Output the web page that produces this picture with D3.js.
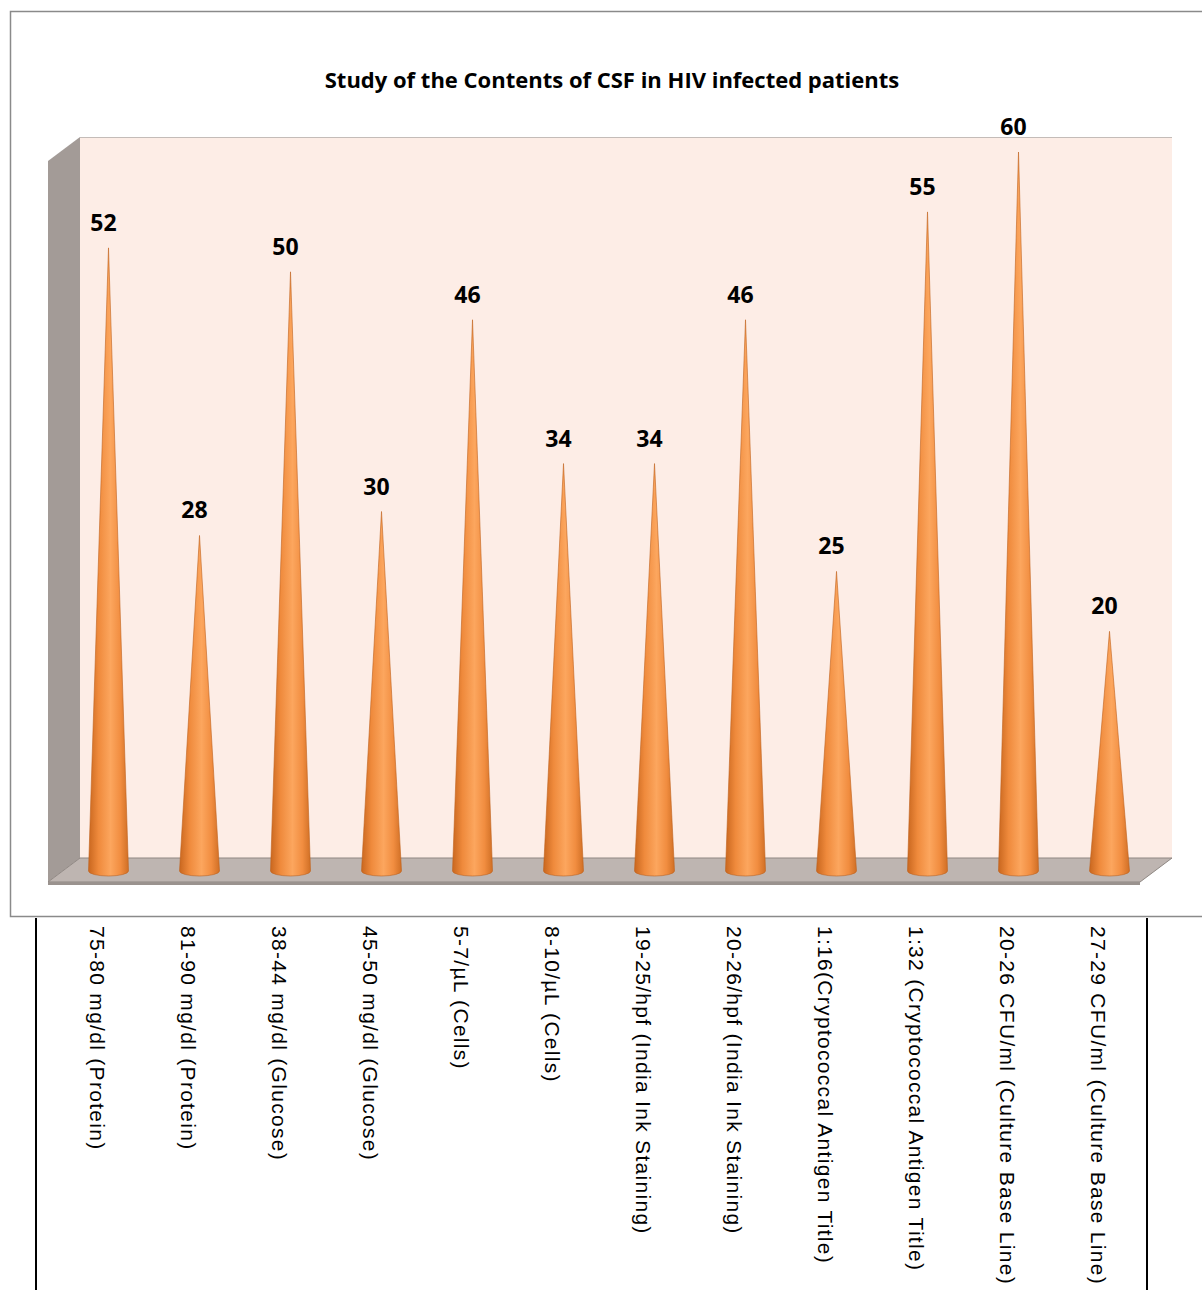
<!DOCTYPE html>
<html>
<head>
<meta charset="utf-8">
<script src="https://cdn.jsdelivr.net/npm/d3@7"></script>
<style>
  body { margin: 0; background: #fff; }
  svg { display: block; }
</style>
</head>
<body>
<div id="chart"></div>
<script>
// chart data
var categories = [
  '75-80 mg/dl (Protein)', '81-90 mg/dl (Protein)', '38-44 mg/dl (Glucose)',
  '45-50 mg/dl (Glucose)', '5-7/\u00b5L (Cells)', '8-10/\u00b5L (Cells)',
  '19-25/hpf (India Ink Staining)', '20-26/hpf (India Ink Staining)',
  '1:16(Cryptococcal Antigen Title)', '1:32 (Cryptococcal Antigen Title)',
  '20-26 CFU/ml (Culture Base Line)', '27-29 CFU/ml (Culture Base Line)'
];
var values = [52, 28, 50, 30, 46, 34, 34, 46, 25, 55, 60, 20];
var title = 'Study of the Contents of CSF in HIV infected patients';

var w = 1202, h = 1290;
var depth = 32, depthY = 24;   // 3d offset of the wall / floor
var coneHalf = 20, coneRy = 5;

var svg = d3.select('#chart').append('svg')
  .attr('width', w)
  .attr('height', h);

var defs = svg.append('defs');
var grad = defs.append('linearGradient')
  .attr('id', 'coneGrad')
  .attr('x1', '0%').attr('x2', '100%').attr('y1', '0%').attr('y2', '0%');
grad.append('stop').attr('offset', '0%').attr('stop-color', '#c9671f');
grad.append('stop').attr('offset', '25%').attr('stop-color', '#ef8a3c');
grad.append('stop').attr('offset', '55%').attr('stop-color', '#fca65e');
grad.append('stop').attr('offset', '80%').attr('stop-color', '#f18d40');
grad.append('stop').attr('offset', '100%').attr('stop-color', '#d06f25');

// outer chart frame
svg.append('rect')
  .attr('x', 10.5).attr('y', 11.5)
  .attr('width', w + 10).attr('height', 905)
  .attr('fill', '#fff')
  .attr('stroke', '#8a8a8a')
  .attr('stroke-width', 1.5);

// table lines below the chart
svg.append('line').attr('x1', 36).attr('x2', 36).attr('y1', 918).attr('y2', h)
  .attr('stroke', '#000').attr('stroke-width', 2);
svg.append('line').attr('x1', 1147).attr('x2', 1147).attr('y1', 918).attr('y2', h)
  .attr('stroke', '#000').attr('stroke-width', 2);

var plotLeft = 80, plotRight = 1172, plotTop = 137, plotBottom = 858;

var x = d3.scaleBand()
  .domain(categories)
  .range([63, 1155])
  .padding(0);

var y = d3.scaleLinear()
  .domain([0, 60])
  .range([871, 152]);

// back wall
svg.append('rect')
  .attr('x', plotLeft).attr('y', plotTop)
  .attr('width', plotRight - plotLeft).attr('height', plotBottom - plotTop)
  .attr('fill', '#fdede6');
svg.append('line')
  .attr('x1', plotLeft).attr('x2', plotRight)
  .attr('y1', plotTop + 0.5).attr('y2', plotTop + 0.5)
  .attr('stroke', '#c4bcb8');

// side wall
svg.append('polygon')
  .attr('points', [
    [plotLeft - depth, plotTop + depthY],
    [plotLeft, plotTop],
    [plotLeft, plotBottom],
    [plotLeft - depth, plotBottom + depthY]
  ].join(' '))
  .attr('fill', '#a39b97');

// floor
svg.append('polygon')
  .attr('points', [
    [plotLeft - depth, plotBottom + depthY],
    [plotLeft, plotBottom],
    [plotRight, plotBottom],
    [plotRight - depth, plotBottom + depthY]
  ].join(' '))
  .attr('fill', '#beb5b1')
  .attr('stroke', '#8f8783')
  .attr('stroke-width', 1);
svg.append('polygon')
  .attr('points', [
    [plotLeft - depth, plotBottom + depthY],
    [plotRight - depth, plotBottom + depthY],
    [plotRight - depth, plotBottom + depthY + 3],
    [plotLeft - depth, plotBottom + depthY + 3]
  ].join(' '))
  .attr('fill', '#9a928e');

// title
svg.append('text')
  .attr('x', 612).attr('y', 88)
  .attr('text-anchor', 'middle')
  .attr('font-family', "'Open Sans', sans-serif")
  .attr('font-weight', 'bold')
  .attr('font-size', 22)
  .attr('fill', '#000')
  .text(title);

// cones
var cones = svg.append('g').attr('class', 'cones')
  .selectAll('g')
  .data(values)
  .enter().append('g');

cones.append('path')
  .attr('d', function(d, i) {
    var cx = x(categories[i]) + x.bandwidth() / 2;
    var base = y(0);
    return 'M' + cx + ',' + y(d) +
      ' L' + (cx + coneHalf) + ',' + base +
      ' A' + coneHalf + ',' + coneRy + ' 0 0 1 ' + (cx - coneHalf) + ',' + base +
      ' Z';
  })
  .attr('fill', 'url(#coneGrad)')
  .attr('stroke', '#c0621c')
  .attr('stroke-width', 0.6);

// value labels
cones.append('text')
  .attr('x', function(d, i) { return x(categories[i]) + x.bandwidth() / 2 - 5; })
  .attr('y', function(d) { return y(d) - 17; })
  .attr('text-anchor', 'middle')
  .attr('font-family', "'Open Sans', sans-serif")
  .attr('font-weight', 'bold')
  .attr('font-size', 23)
  .attr('fill', '#000')
  .text(function(d) { return d; });

// category labels, rotated
svg.append('g').attr('class', 'cat-labels')
  .selectAll('text')
  .data(categories)
  .enter().append('text')
  .attr('transform', function(d) {
    var cx = x(d) + x.bandwidth() / 2 - 19;
    return 'translate(' + cx + ',926) rotate(90)';
  })
  .attr('font-family', "'Liberation Sans', Arial, sans-serif")
  .attr('font-size', 21)
  .attr('letter-spacing', 1.3)
  .attr('fill', '#000')
  .text(function(d) { return d; });
</script>
</body>
</html>
